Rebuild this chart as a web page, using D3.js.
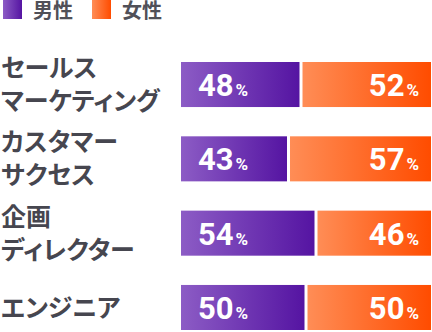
<!DOCTYPE html>
<html>
<head>
<meta charset="utf-8">
<script src="https://cdn.jsdelivr.net/npm/d3@7"></script>
<style>
  html, body { margin: 0; padding: 0; background: #fff; }
  svg { display: block; }
  .cat { font-feature-settings: "palt"; }
</style>
</head>
<body>
<svg id="chart" width="432" height="332"></svg>
<script>
// Gender split by job category (percent)
const categories = ["セールス\nマーケティング", "カスタマー\nサクセス", "企画\nディレクター", "エンジニア"];
const male = [48, 43, 54, 50];
const female = [52, 57, 46, 50];
const seriesNames = ["男性", "女性"];

const svg = d3.select("#chart");

const defs = svg.append("defs");
function grad(id, c0, c1) {
  const g = defs.append("linearGradient").attr("id", id)
    .attr("x1", "0%").attr("x2", "100%").attr("y1", "0%").attr("y2", "0%");
  g.append("stop").attr("offset", "0%").attr("stop-color", c0);
  g.append("stop").attr("offset", "100%").attr("stop-color", c1);
}
grad("gMale", "#8c5cc5", "#5514a2");
grad("gFemale", "#ff8d56", "#ff4c00");

const x = d3.scaleLinear().domain([0, 100]).range([181, 431]);
const y = d3.scaleBand().domain(categories).range([62, 330]).paddingInner(0.394).paddingOuter(0);

const labelColor = "#46464f";
const cjk = "'Noto Sans CJK JP', 'Noto Sans', sans-serif";
const num = "Roboto, 'Liberation Sans', sans-serif";

// Legend
const legend = svg.append("g");
const legendItems = [
  { name: seriesNames[0], fill: "url(#gMale)", x: 3 },
  { name: seriesNames[1], fill: "url(#gFemale)", x: 92 }
];
legendItems.forEach(it => {
  legend.append("rect").attr("x", it.x).attr("y", 0).attr("width", 19).attr("height", 19)
    .attr("fill", it.fill);
  legend.append("text").attr("x", it.x + 30).attr("y", 17.5)
    .attr("font-family", cjk).attr("font-weight", 700).attr("font-size", 20)
    .attr("fill", "#505058").text(it.name);
});

// Category labels
const rows = svg.append("g").selectAll("g").data(categories).join("g");
rows.each(function(c) {
  const g = d3.select(this);
  const lines = c.split("\n");
  const cy = y(c) + y.bandwidth() / 2;
  const offs = lines.length === 2 ? [-17, 16] : [0];
  lines.forEach((ln, i) => {
    g.append("text").attr("class", "cat").attr("x", 1).attr("y", cy + offs[i] + 9.5)
      .attr("font-family", cjk).attr("font-weight", 700).attr("font-size", 25)
      .attr("fill", labelColor).text(ln);
  });
});

// Bars
const gap = 1.5;
const bars = svg.append("g");
categories.forEach((c, i) => {
  const y0 = y(c), h = y.bandwidth(), cy = y0 + h / 2;
  const split = x(male[i]);
  bars.append("rect").attr("x", x(0)).attr("y", y0)
    .attr("width", split - gap - x(0)).attr("height", h).attr("fill", "url(#gMale)");
  bars.append("rect").attr("x", split + gap).attr("y", y0)
    .attr("width", x(100) - split - gap).attr("height", h).attr("fill", "url(#gFemale)");

  const tm = bars.append("text").attr("x", x(0) + 17).attr("y", cy + 11.5)
    .attr("font-family", num).attr("font-weight", 700).attr("fill", "#fff")
    .attr("text-anchor", "start");
  tm.append("tspan").attr("font-size", 31).text(male[i]);
  tm.append("tspan").attr("font-size", 17).attr("dx", 2).text("%");

  const tf = bars.append("text").attr("x", x(100) - 12).attr("y", cy + 11.5)
    .attr("font-family", num).attr("font-weight", 700).attr("fill", "#fff")
    .attr("text-anchor", "end");
  tf.append("tspan").attr("font-size", 31).text(female[i]);
  tf.append("tspan").attr("font-size", 17).attr("dx", 2).text("%");
});
</script>
</body>
</html>
